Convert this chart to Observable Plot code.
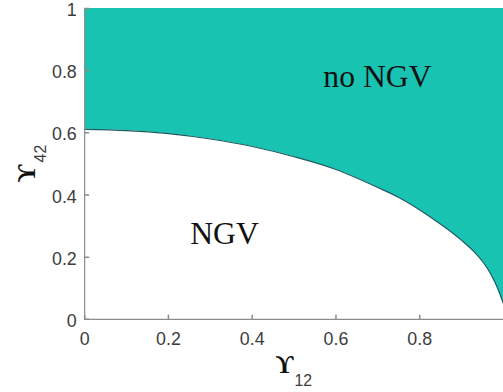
<!DOCTYPE html>
<html><head><meta charset="utf-8">
<script src="https://cdn.jsdelivr.net/npm/d3@7"></script>
<script src="https://cdn.jsdelivr.net/npm/@observablehq/plot@0.6"></script>
<style>
html,body{margin:0;padding:0;background:#fff;overflow:hidden;}
#wrap{width:503px;height:392px;overflow:hidden;position:relative;}
</style></head><body><div id="wrap"></div>
<script>
// boundary between the two regions: Upsilon_42 as a function of Upsilon_12
const gamma12 = [0, 0.1, 0.2, 0.3, 0.4, 0.5, 0.6, 0.7, 0.75, 0.8, 0.85, 0.9, 0.93, 0.95, 0.97, 0.985, 1.0];
const gamma42 = [0.611, 0.607, 0.597, 0.580, 0.556, 0.523, 0.482, 0.424, 0.392, 0.352, 0.306, 0.254, 0.217, 0.186, 0.145, 0.103, 0.05];
const xTicks = [0, 0.2, 0.4, 0.6, 0.8];
const xTickLabels = ["0", "0.2", "0.4", "0.6", "0.8"];
const yTicks = [0, 0.2, 0.4, 0.6, 0.8, 1];
const yTickLabels = ["0", "0.2", "0.4", "0.6", "0.8", "1"];
const regionLabels = ["no NGV", "NGV"];
const regionX = [0.699, 0.334];
const regionY = [0.78, 0.274];
const yDomain = [0, 1];
const xDomain = [0, 1];

const curve = gamma12.map((x, i) => ({x, y: gamma42[i]}));
const labels = regionLabels.map((t, i) => ({t, x: regionX[i], y: regionY[i]}));
const tickShape = {draw(ctx, l) { ctx.moveTo(0, 0); ctx.lineTo(0, -l); }};
const axisGray = "#8c8c8c";
const txtGray = "#3c3c3c";

const plot = Plot.plot({
  width: 508, height: 392,
  marginLeft: 85, marginRight: 0, marginTop: 8, marginBottom: 70,
  x: {domain: xDomain},
  y: {domain: yDomain},
  style: {fontFamily: "Liberation Sans, Arial, sans-serif", background: "#fff"},
  marks: [
    Plot.areaY(curve, {x: "x", y1: "y", y2: () => yDomain[1], fill: "#18c3b1", curve: "monotone-x"}),
    Plot.line(curve, {x: "x", y: "y", stroke: "#1d5b60", strokeWidth: 1.2, curve: "monotone-x"}),
    Plot.ruleX([xDomain[0]], {stroke: axisGray, strokeWidth: 1.2}),
    Plot.ruleY([yDomain[0]], {stroke: axisGray, strokeWidth: 1.2}),
    Plot.vector(xTicks, {x: d => d, y: yDomain[0], length: 4, rotate: 0, anchor: "start", shape: tickShape, stroke: axisGray}),
    Plot.vector(yTicks, {x: xDomain[0], y: d => d, length: 4, rotate: 90, anchor: "start", shape: tickShape, stroke: axisGray}),
    Plot.axisX({ticks: xTicks, tickFormat: (d) => xTickLabels[xTicks.indexOf(d)], tickSize: 0, tickPadding: 13, fontSize: 18, fill: txtGray, label: null}),
    Plot.axisY({ticks: yTicks, tickFormat: (d) => yTickLabels[yTicks.indexOf(d)], tickSize: 0, tickPadding: 8, fontSize: 18, fill: txtGray, dy: 2, label: null}),
    Plot.text(labels, {x: "x", y: "y", text: "t", fontFamily: "Liberation Serif, Times New Roman, serif", fontSize: 32, fill: "#111"})
  ]
});

const svg = d3.select(plot);
const sx = plot.scale("x"), sy = plot.scale("y");
const cx = (sx.apply(xDomain[0]) + sx.apply(xDomain[1])) / 2;
const cy = (sy.apply(yDomain[0]) + sy.apply(yDomain[1])) / 2;
const serif = "Liberation Serif, Times New Roman, serif";
const sans = "Liberation Sans, Arial, sans-serif";
// x title
svg.append("text").attr("x", cx).attr("y", 377).attr("text-anchor", "end")
  .attr("font-family", serif).attr("font-weight", "bold").attr("font-size", 25).attr("fill", "#111").text("ϒ");
svg.append("text").attr("x", cx + 1).attr("y", 390).attr("text-anchor", "start")
  .attr("font-family", sans).attr("font-size", 16).attr("fill", txtGray).text("12");
// y title
const gy = svg.append("g").attr("transform", `translate(35,${cy + 1}) rotate(-90)`);
gy.append("text").attr("x", 0).attr("y", 0).attr("text-anchor", "end")
  .attr("font-family", serif).attr("font-weight", "bold").attr("font-size", 25).attr("fill", "#111").text("ϒ");
const gy2 = svg.append("g").attr("transform", `translate(46,${cy - 1}) rotate(-90)`);
gy2.append("text").attr("x", 0).attr("y", 0).attr("text-anchor", "start")
  .attr("font-family", sans).attr("font-size", 16).attr("fill", txtGray).text("42");

document.getElementById("wrap").appendChild(plot);
</script></body></html>
